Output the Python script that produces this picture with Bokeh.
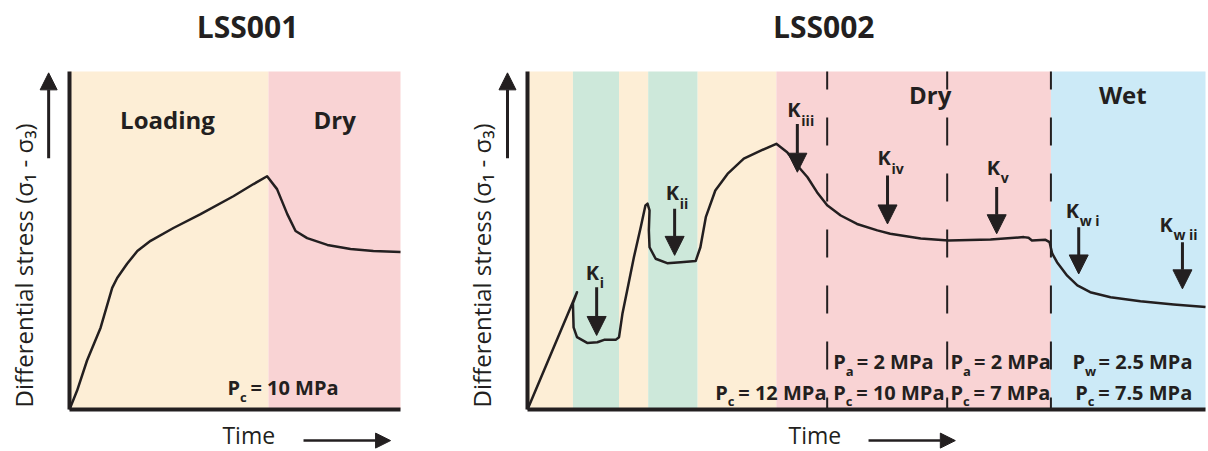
from bokeh.plotting import figure
from bokeh.models import Range1d, Label, Arrow, NormalHead, ColumnDataSource, LinearAxis, FixedTicker
from bokeh.layouts import row
from bokeh.embed import file_html
from bokeh.resources import INLINE

# ---------------- data (time and stress in arbitrary units, 0-100) ----------------
# LSS001
lss1_phases = ["Loading", "Dry"]
lss1_phase_start = [0, 60.1]
lss1_phase_end = [60.1, 100]
lss1_time = [0, 2.3, 5.3, 9.4, 12.9, 14.4, 17.4, 20.5, 24.5, 31.4, 39.6, 49.5, 55.6,
             59.7, 62.7, 65.8, 68.3, 71.8, 77.9, 84.9, 91.8, 100]
lss1_stress = [0, 5.6, 14.5, 24.2, 36.0, 38.9, 43.1, 46.9, 49.9, 53.7, 57.8, 63.1, 66.7,
               69.0, 65.2, 57.8, 52.8, 50.7, 48.7, 47.5, 46.9, 46.6]
lss1_conditions = [("c", "= 10 MPa")]

# LSS002
lss2_phases = ["loading", "creep", "loading", "creep", "loading", "Dry", "Wet"]
lss2_phase_start = [0, 6.7, 13.5, 17.8, 25.1, 36.7, 77.2]
lss2_phase_end = [6.7, 13.5, 17.8, 25.1, 36.7, 77.2, 100]
lss2_steps = [44.2, 61.9, 77.2]
lss2_time = [0, 7.3, 6.7, 6.8, 7.3, 8.8, 10.3, 11.3, 13.0, 13.5, 14.0, 14.7, 15.7, 16.7,
             17.4, 17.7, 18.0, 17.9, 18.0, 18.9, 20.6, 22.6, 24.8, 25.5, 26.3, 27.7, 29.5,
             31.9, 34.4, 36.7, 38.3, 39.8, 41.3, 42.7, 44.2, 46.2, 48.6, 51.6, 53.5, 58.0,
             62.1, 68.3, 73.2, 73.9, 74.4, 76.4, 77.0, 77.4, 78.1, 79.6, 81.1, 83.0, 86.0,
             90.4, 95.3, 100]
lss2_stress = [0, 34.7, 31.4, 24.3, 21.4, 19.7, 19.9, 20.6, 20.6, 21.4, 28.3, 35.2, 45.1,
               53.9, 60.4, 60.9, 58.9, 53.0, 48.0, 44.6, 43.3, 43.6, 43.9, 48.0, 56.9, 64.8,
               69.7, 74.2, 76.6, 78.6, 76.1, 72.2, 68.7, 64.3, 60.4, 57.4, 54.9, 53.0, 52.0,
               50.6, 50.0, 50.3, 51.0, 50.8, 50.0, 50.2, 49.5, 46.1, 43.6, 39.6, 36.7, 34.7,
               33.2, 32.0, 31.1, 30.3]
k_subs = ["i", "ii", "iii", "iv", "v", "w i", "w ii"]
k_time = [10.2, 21.7, 39.8, 53.1, 69.2, 81.3, 96.6]
k_top = [36.2, 59.4, 84.5, 69.2, 65.8, 53.9, 49.5]
k_tip = [21.9, 45.6, 70.2, 54.9, 52.0, 40.1, 35.7]
pa_row = [("a", "= 2 MPa"), ("a", "= 2 MPa"), ("w", "= 2.5 MPa")]
pc_row = [("c", "= 12 MPa"), ("c", "= 10 MPa"), ("c", "= 7 MPa"), ("c", "= 7.5 MPa")]

# ---------------- styles / layout ----------------
INK = "#231F20"
FONT = "Open Sans"
PHASE_COLORS = {"loading": "#FDEED6", "Loading": "#FDEED6", "creep": "#CDE8DA",
                "Dry": "#F9D3D4", "Wet": "#CCEAF7"}
PX_Y = 3.38       # pixels per stress unit (both panels)
BASE_FIX = 0.40   # baseline correction, in em


def make_fig(width, left_px, px_per_t):
    x0 = -left_px / px_per_t
    p = figure(width=width, height=451,
               x_range=Range1d(x0, x0 + width / px_per_t),
               y_range=Range1d(-42 / PX_Y, 409 / PX_Y),
               x_axis_type=None, y_axis_type=None,
               output_backend="svg", toolbar_location=None,
               min_border=0, min_border_left=0, min_border_right=0,
               min_border_top=0, min_border_bottom=0)
    p.grid.visible = False
    p.outline_line_color = None
    p.background_fill_color = "white"
    p.border_fill_color = "white"
    for side in ("below", "left"):
        ax = LinearAxis(fixed_location=0, bounds=(0, 100), ticker=FixedTicker(ticks=[]),
                        axis_line_width=4, axis_line_color=INK,
                        major_tick_line_color=None, minor_tick_line_color=None,
                        major_label_text_font_size="0px", major_label_text_color=None)
        p.add_layout(ax, side)
    return p


def label(p, x, y, text, size, style="normal", align="left", angle=0, x_offset=0):
    if angle == 0:
        y = y + BASE_FIX * size / PX_Y
    else:
        x_offset -= BASE_FIX * size
    p.add_layout(Label(x=x, y=y, text=text, text_font=FONT, text_font_size=f"{size}px",
                       text_font_style=style, text_color=INK, text_align=align,
                       text_baseline="alphabetic", angle=angle, x_offset=x_offset))


def arrow(p, x0, y0, x1, y1, width, head):
    p.add_layout(Arrow(end=NormalHead(size=head, fill_color=INK, line_color=INK, line_width=1),
                       x_start=x0, y_start=y0, x_end=x1, y_end=y1,
                       line_width=width, line_color=INK))


SUB_W = {"c": 23, "a": 23.5, "w": 26}


def p_label(p, x, y, sub, rest):
    label(p, x, y, "P", 20, "bold")
    label(p, x, y - 6.5 / PX_Y, sub, 13, "bold", x_offset=12.5)
    label(p, x, y, rest, 20, "bold", x_offset=SUB_W[sub])


def axis_texts(p, ylab_x, arrow_x, time_x, tarrow_x0, tarrow_x1):
    label(p, ylab_x, 0.6, "Differential stress  (σ₁ - σ₃)", 24, angle=1.5708)
    arrow(p, arrow_x, 74.3, arrow_x, 99.6, 3, 17)
    label(p, time_x, -10.4, "Time", 23)
    arrow(p, tarrow_x0, -9.2, tarrow_x1, -9.2, 2.5, 15)


# ---------------- LSS001 ----------------
p1 = make_fig(460, 69, 3.31)
src1 = ColumnDataSource(dict(left=lss1_phase_start, right=lss1_phase_end,
                             color=[PHASE_COLORS[n] for n in lss1_phases]))
p1.quad(left="left", right="right", bottom=0, top=100, fill_color="color",
        line_color=None, source=src1)
p1.line(lss1_time, lss1_stress, line_width=2.5, line_color=INK, line_join="round")
label(p1, 53.8, 109.8, "LSS001", 30, "bold", "center")
label(p1, 29.6, 83.1, lss1_phases[0], 24, "bold", "center")
label(p1, 80.1, 83.1, lss1_phases[1], 24, "bold", "center")
for sub, rest in lss1_conditions:
    p_label(p1, 47.7, 4.1, sub, rest)
axis_texts(p1, -10.9, -6.3, 46.2, 70.7, 97.0)

# ---------------- LSS002 ----------------
p2 = make_fig(748, 67, 6.78)
src2 = ColumnDataSource(dict(left=lss2_phase_start, right=lss2_phase_end,
                             color=[PHASE_COLORS[n] for n in lss2_phases]))
p2.quad(left="left", right="right", bottom=0, top=100, fill_color="color",
        line_color=None, source=src2)
p2.segment(x0=lss2_steps, y0=[0] * len(lss2_steps), x1=lss2_steps, y1=[100] * len(lss2_steps),
           line_width=2, line_color=INK, line_dash="28 28", line_dash_offset=16)
p2.line(lss2_time, lss2_stress, line_width=2.5, line_color=INK, line_join="round")
label(p2, 43.7, 109.8, "LSS002", 30, "bold", "center")
label(p2, 59.4, 90.5, lss2_phases[5], 24, "bold", "center")
label(p2, 87.8, 90.5, lss2_phases[6], 24, "bold", "center")

k_label_dx = [-11, -9, -10, -10, -10, -13, -23]   # px from arrow shaft to left of "K"
k_label_dy = [7, 8, 6, 10, 12, 9, 10]             # px above arrow top (baseline)
for t, top, tip, sub, dx, dy in zip(k_time, k_top, k_tip, k_subs, k_label_dx, k_label_dy):
    arrow(p2, t, top, t, tip, 3, 19)
    yb = top + dy / PX_Y
    label(p2, t, yb, "K", 20, "bold", x_offset=dx)
    label(p2, t, yb - 8 / PX_Y, sub, 14, "bold", x_offset=dx + 14)

for x, (sub, rest) in zip([45.1, 62.4, 80.4], pa_row):
    p_label(p2, x, 11.8, sub, rest)
for x, (sub, rest) in zip([27.7, 45.1, 62.4, 80.8], pc_row):
    p_label(p2, x, 2.8, sub, rest)
axis_texts(p2, -5.3, -2.95, 38.5, 50.3, 63.1)

layout = row(p1, p2)
open("out.html", "w").write(file_html(layout, INLINE))
